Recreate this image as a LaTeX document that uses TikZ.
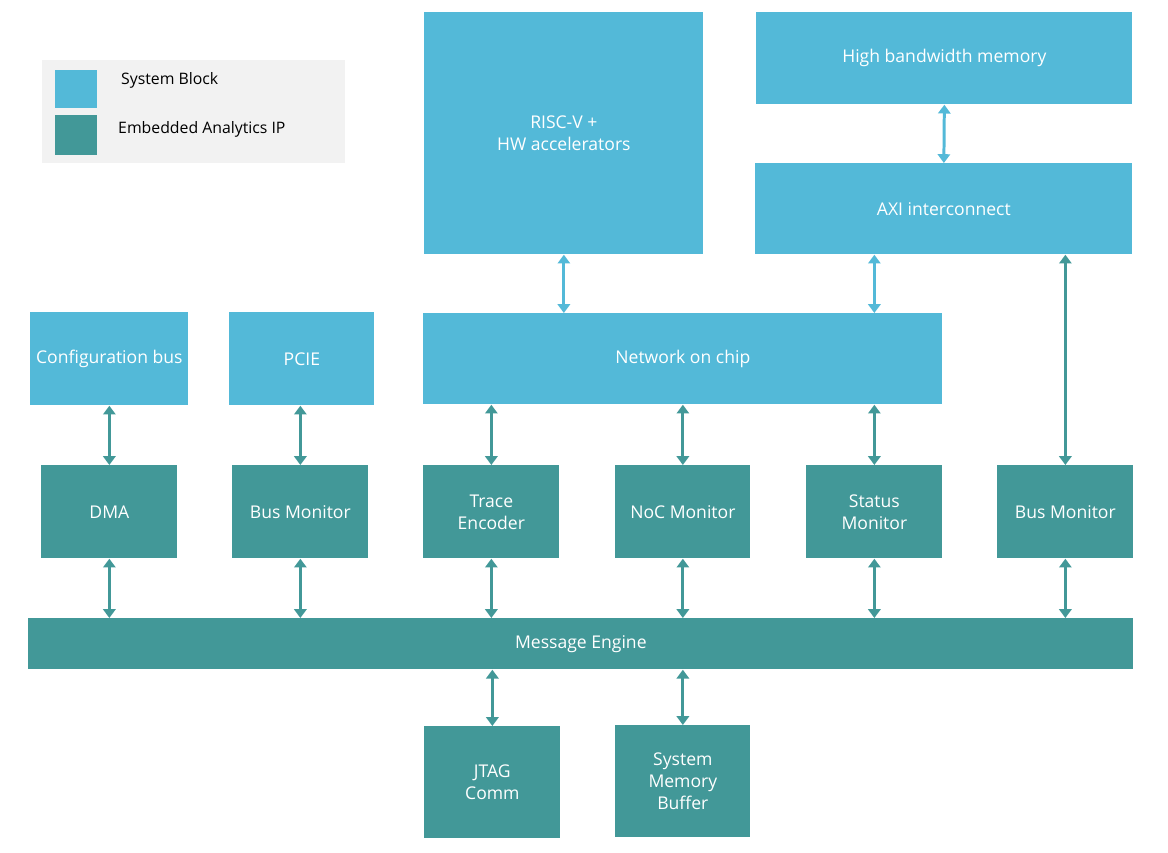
\documentclass[tikz,border=0pt]{standalone}
\usepackage{fontspec}
\setmainfont{Open Sans}
\usetikzlibrary{arrows.meta}
\definecolor{sysblue}{RGB}{83,185,216}
\definecolor{ipteal}{RGB}{66,152,152}
\definecolor{legendgray}{RGB}{242,242,242}
\tikzset{
  blk/.style 2 args={anchor=north west, inner sep=1pt, align=center, text=white,
    font=\fontsize{10}{12.5}\selectfont,
    minimum width=#1*0.02cm, minimum height=#2*0.02cm},
  sys/.style={fill=sysblue},
  ip/.style={fill=ipteal},
  link/.style={line width=1.7pt, {Triangle[length=5pt,width=7pt]}-{Triangle[length=5pt,width=7pt]}},
}
\begin{document}
\begin{tikzpicture}[x=0.02cm,y=-0.02cm]
\useasboundingbox (0,0) rectangle (1168,852);
%% Legend
\fill[legendgray] (42,60) rectangle (345,163);
\fill[sysblue] (55,70) rectangle (97,108);
\fill[ipteal] (55,115) rectangle (97,155);
\node[anchor=west, font=\fontsize{9}{11}\selectfont] (lsys) at (115,80) {System Block};
\node[anchor=west, font=\fontsize{9}{11}\selectfont] (lip) at (112,129) {Embedded Analytics IP};
%% System blocks
\node[blk={279}{242}, sys] (risc) at (424,12) {RISC-V +\\HW accelerators};
\node[blk={376}{92}, sys] (hbm) at (756,12) {High bandwidth memory};
\node[blk={377}{91}, sys] (axi) at (755,163) {AXI interconnect};
\node[blk={158}{93}, sys] (cfg) at (30,312) {Configuration bus};
\node[blk={145}{93}, sys] (pcie) at (229,312) {PCIE};
\node[blk={519}{91}, sys] (noc) at (423,313) {Network on chip};
%% Analytics IP
\node[blk={136}{93}, ip] (dma) at (41,465) {DMA};
\node[blk={136}{93}, ip] (busmon) at (232,465) {Bus Monitor};
\node[blk={136}{93}, ip] (trace) at (423,465) {Trace\\Encoder};
\node[blk={135}{93}, ip] (nocmon) at (615,465) {NoC Monitor};
\node[blk={136}{93}, ip] (status) at (806,465) {Status\\Monitor};
\node[blk={136}{93}, ip] (busmonb) at (997,465) {Bus Monitor};
\node[blk={1105}{51}, ip] (msg) at (28,618) {Message Engine};
\node[blk={136}{112}, ip] (jtag) at (424,726) {JTAG\\Comm};
\node[blk={135}{112}, ip] (smb) at (615,725) {System\\Memory\\Buffer};
%% Links
\draw[link, sysblue] (risc.south) -- (noc.north -| risc.south);
\draw[link, sysblue] (axi.south -| status.north) -- (noc.north -| status.north);
\draw[link, sysblue] (hbm.south) -- (axi.north);
\draw[link, ipteal] (axi.south -| busmonb.north) -- (busmonb.north);
\draw[link, ipteal] (cfg.south -| dma.north) -- (dma.north);
\draw[link, ipteal] (pcie.south -| busmon.north) -- (busmon.north);
\foreach \blk in {trace, nocmon, status}
  \draw[link, ipteal] (noc.south -| \blk.north) -- (\blk.north);
\foreach \blk in {dma, busmon, trace, nocmon, status, busmonb}
  \draw[link, ipteal] (\blk.south) -- (msg.north -| \blk.south);
\draw[link, ipteal] (msg.south -| jtag.north) -- (jtag.north);
\draw[link, ipteal] (msg.south -| smb.north) -- (smb.north);
\end{tikzpicture}
\end{document}
